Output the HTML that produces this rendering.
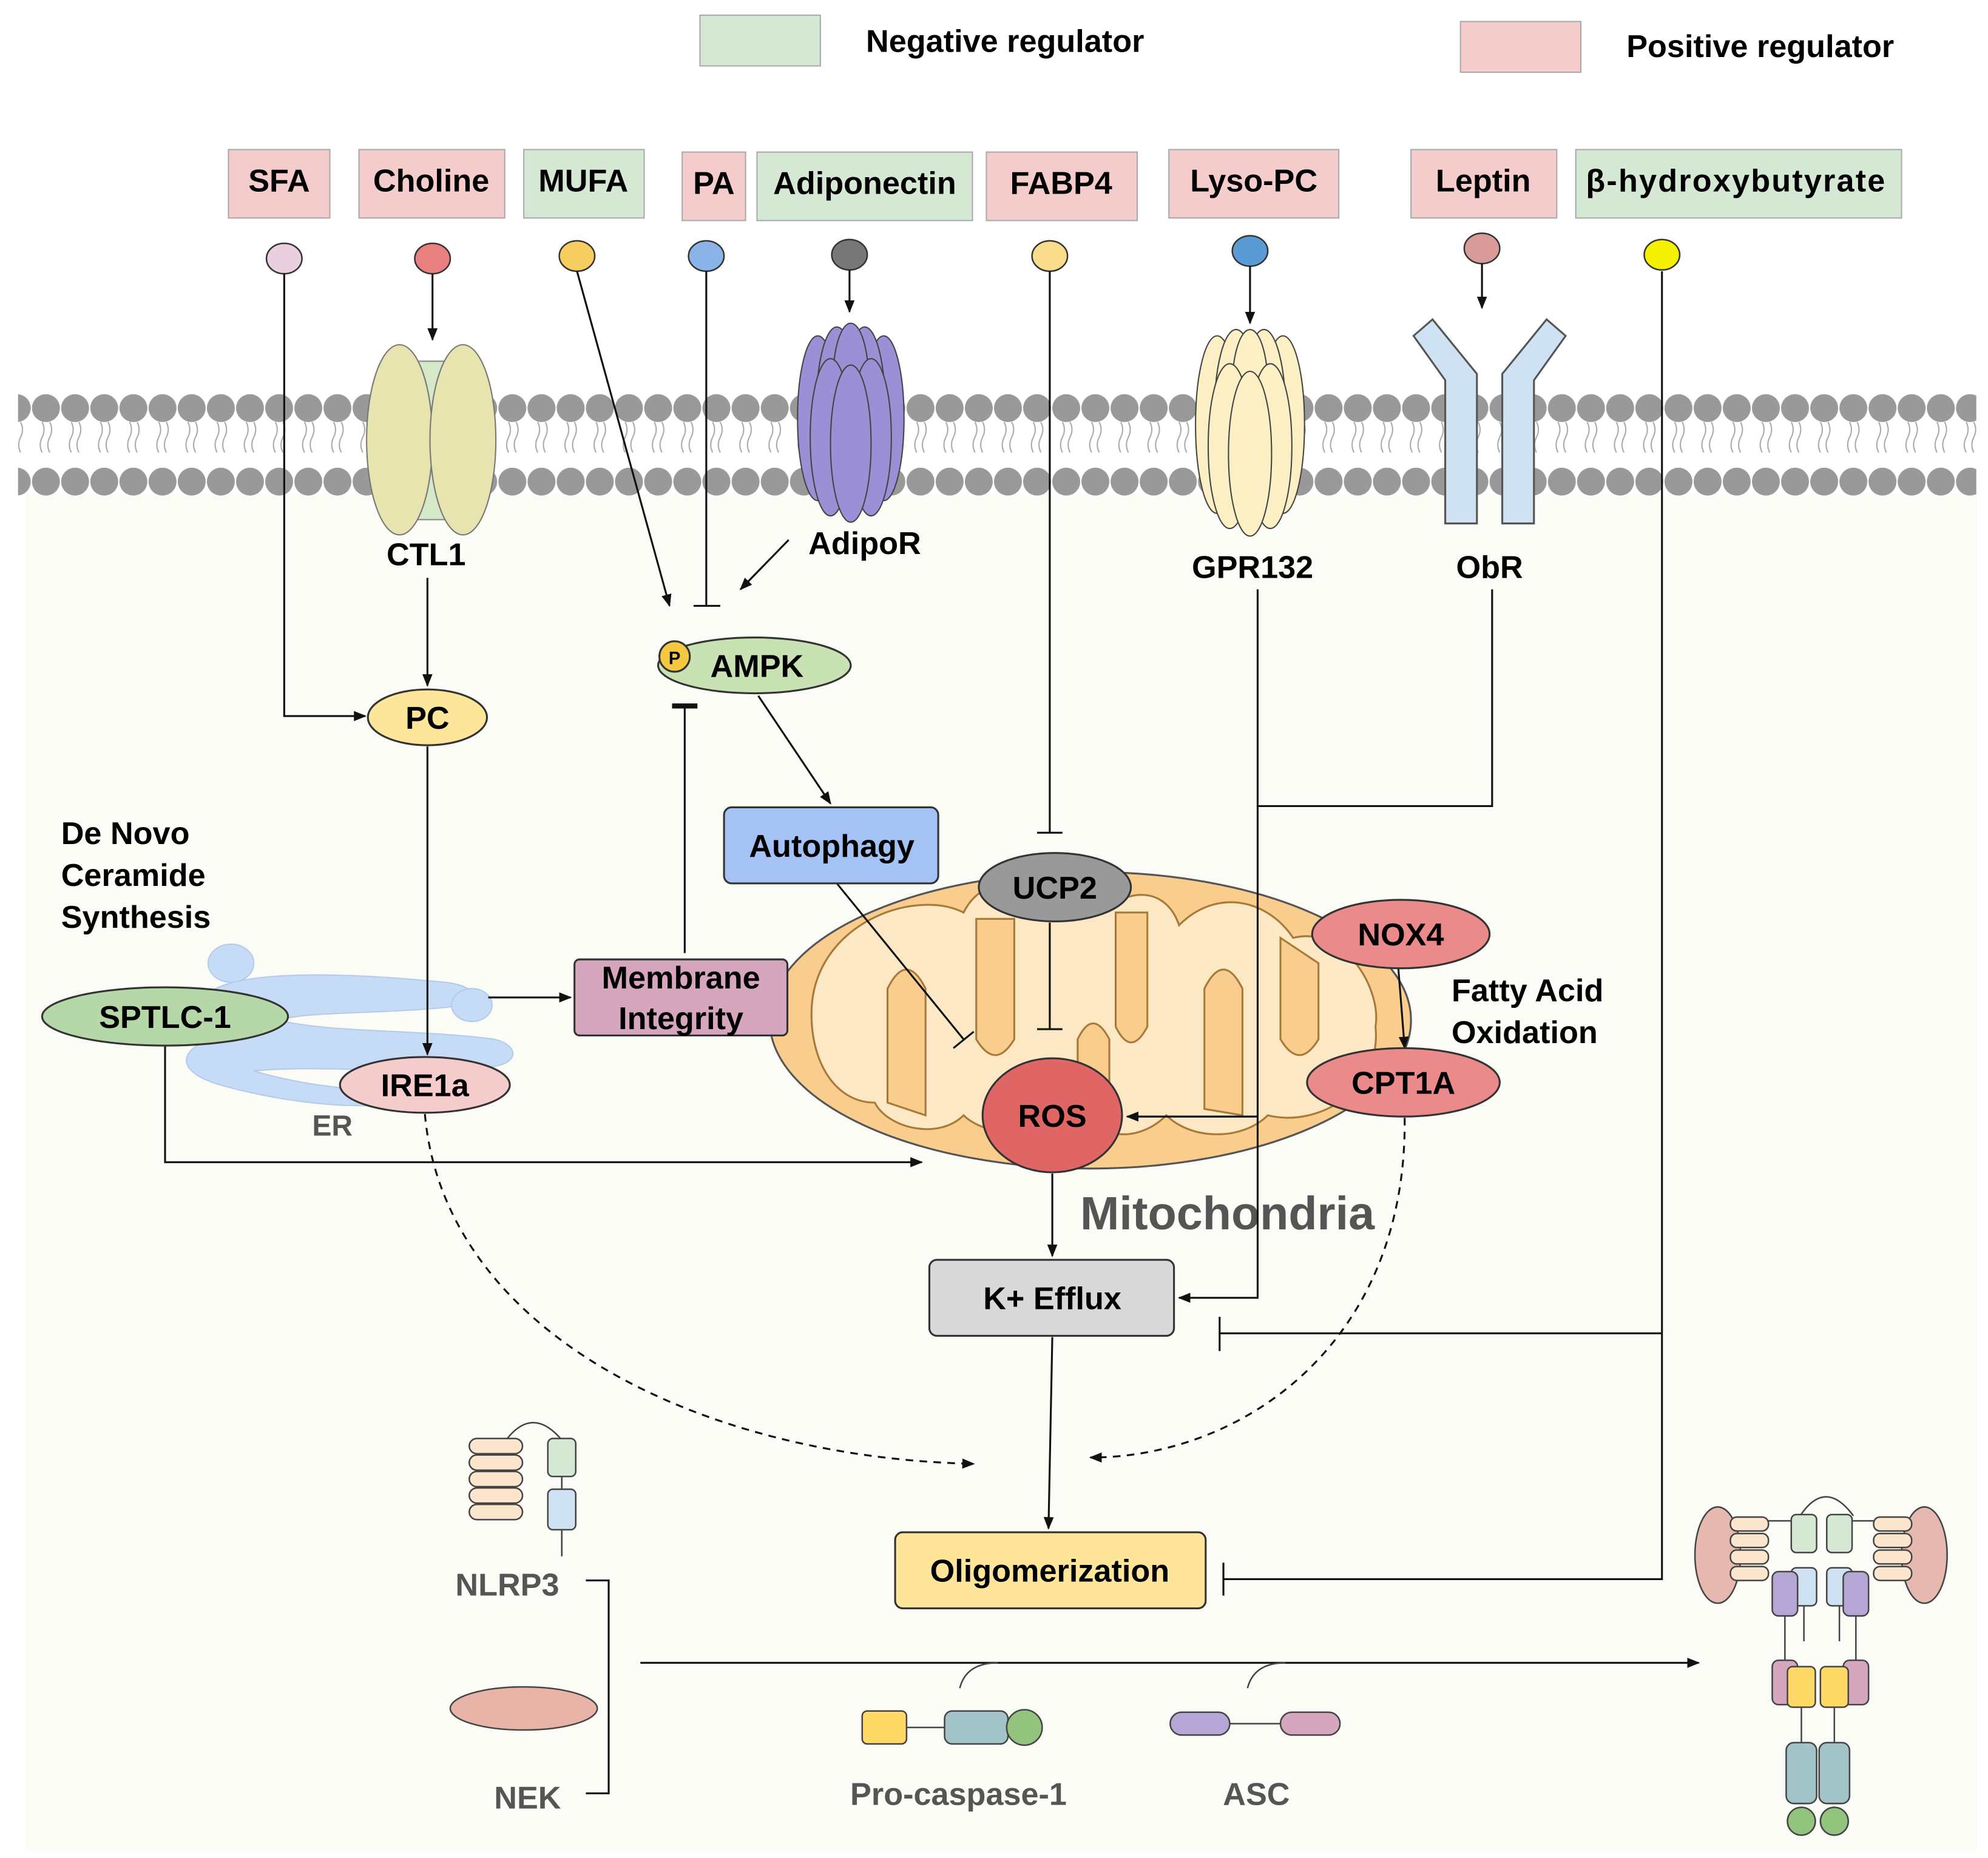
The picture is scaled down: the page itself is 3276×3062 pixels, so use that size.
<!DOCTYPE html>
<html><head><meta charset="utf-8"><style>
html,body{margin:0;padding:0;background:#fff;}
svg{display:block;}
text{font-family:"Liberation Sans",sans-serif;font-weight:bold;}
</style></head><body>
<svg width="3276" height="3062" viewBox="0 0 1568 1466" xmlns="http://www.w3.org/2000/svg">
<defs>
<marker id="a" markerWidth="10" markerHeight="10" refX="9" refY="5" orient="auto" markerUnits="userSpaceOnUse"><path d="M0,1 L10,5 L0,9 z" fill="#111"/></marker>
<pattern id="mem" x="25" y="0" width="23" height="1466" patternUnits="userSpaceOnUse">
<circle cx="11" cy="322" r="11" fill="#999"/><circle cx="11" cy="380" r="11" fill="#999"/>
<path d="M8,333 q3,6 0,12 q-3,6 0,12 M14,333 q3,6 0,12 q-3,6 0,12" stroke="#aaa" fill="none" stroke-width="1"/>
</pattern>
</defs>
<rect x="20" y="390" width="1540" height="1070" fill="#fcfcf7"/>
<!-- legend -->
<rect x="552" y="12" width="95" height="40" fill="#d5e8d4" stroke="#aaa"/>
<text x="683" y="41" font-size="25">Negative regulator</text>
<rect x="1152" y="17" width="95" height="40" fill="#f4cccc" stroke="#aaa"/>
<text x="1283" y="45" font-size="25">Positive regulator</text>
<!-- top boxes -->
<g stroke="#aaa">
<rect x="180" y="118" width="80" height="54" fill="#f4cccc"/>
<rect x="283" y="118" width="115" height="54" fill="#f4cccc"/>
<rect x="413" y="118" width="95" height="54" fill="#d5e8d4"/>
<rect x="538" y="120" width="50" height="54" fill="#f4cccc"/>
<rect x="597" y="120" width="170" height="54" fill="#d5e8d4"/>
<rect x="778" y="120" width="119" height="54" fill="#f4cccc"/>
<rect x="922" y="118" width="134" height="54" fill="#f4cccc"/>
<rect x="1113" y="118" width="115" height="54" fill="#f4cccc"/>
<rect x="1243" y="118" width="257" height="54" fill="#d5e8d4"/>
</g>
<g font-size="25" text-anchor="middle">
<text x="220" y="151">SFA</text><text x="340" y="151">Choline</text><text x="460" y="151">MUFA</text>
<text x="563" y="153">PA</text><text x="682" y="153">Adiponectin</text><text x="837" y="153">FABP4</text>
<text x="989" y="151">Lyso-PC</text><text x="1170" y="151">Leptin</text><text x="1369" y="151" textLength="236">β-hydroxybutyrate</text>
</g>
<g stroke="#333" stroke-width="1.2">
<ellipse cx="224" cy="204" rx="14" ry="12" fill="#ead0de"/>
<ellipse cx="341" cy="204" rx="14" ry="12" fill="#e88080"/>
<ellipse cx="455" cy="202" rx="14" ry="12" fill="#f7cc60"/>
<ellipse cx="557" cy="202" rx="14" ry="12" fill="#8ab4e8"/>
<ellipse cx="670" cy="201" rx="14" ry="12" fill="#777"/>
<ellipse cx="828" cy="202" rx="14" ry="12" fill="#f9dc8a"/>
<ellipse cx="986" cy="198" rx="14" ry="12" fill="#5b9bd5"/>
<ellipse cx="1169" cy="196" rx="14" ry="12" fill="#d99a9a"/>
<ellipse cx="1311" cy="201" rx="14" ry="12" fill="#f5f000"/>
</g>
<!-- membrane -->
<rect x="14" y="308" width="1545" height="86" fill="url(#mem)"/>
<!-- CTL1 -->
<rect x="315" y="285" width="50" height="125" fill="#d5e8c8" stroke="#888"/>
<ellipse cx="315" cy="347" rx="26" ry="75" fill="#e8e4b0" stroke="#777"/>
<ellipse cx="365" cy="347" rx="26" ry="75" fill="#e8e4b0" stroke="#777"/>
<!-- AdipoR -->
<g fill="#9b8fd6" stroke="#444">
<ellipse cx="645" cy="330" rx="16" ry="65"/><ellipse cx="697" cy="330" rx="16" ry="65"/>
<ellipse cx="660" cy="320" rx="16" ry="62"/><ellipse cx="682" cy="320" rx="16" ry="62"/>
<ellipse cx="671" cy="300" rx="14" ry="45"/>
<ellipse cx="655" cy="345" rx="16" ry="62"/><ellipse cx="687" cy="345" rx="16" ry="62"/>
<ellipse cx="671" cy="350" rx="16" ry="62"/>
</g>
<!-- GPR132 -->
<g fill="#fdefc4" stroke="#444">
<ellipse cx="960" cy="335" rx="17" ry="70"/><ellipse cx="1012" cy="335" rx="17" ry="70"/>
<ellipse cx="975" cy="325" rx="17" ry="65"/><ellipse cx="997" cy="325" rx="17" ry="65"/>
<ellipse cx="986" cy="305" rx="14" ry="45"/>
<ellipse cx="970" cy="352" rx="17" ry="65"/><ellipse cx="1002" cy="352" rx="17" ry="65"/>
<ellipse cx="986" cy="358" rx="17" ry="65"/>
</g>
<!-- ObR -->
<g fill="#cfe2f3" stroke="#555" stroke-width="1.5">
<path d="M1115,265 L1130,252 L1165,295 L1165,413 L1140,413 L1140,300 z"/>
<path d="M1235,265 L1220,252 L1185,295 L1185,413 L1210,413 L1210,300 z"/>
</g>
<g font-size="25" text-anchor="middle">
<text x="336" y="446">CTL1</text><text x="682" y="437">AdipoR</text><text x="988" y="456">GPR132</text><text x="1175" y="456">ObR</text>
</g>
<!-- Mitochondria -->
<ellipse cx="860" cy="805" rx="253" ry="117" fill="#f9cd8e" stroke="#555" stroke-width="1.5"/>
<path d="M640,800 C640,730 720,700 760,720 C770,700 790,690 810,720 C830,700 850,700 870,720 C890,700 920,700 930,730 C960,700 1000,710 1020,740 C1060,730 1090,780 1085,810 C1090,860 1040,890 1000,880 C980,900 940,900 920,880 C900,900 870,900 860,880 C840,900 780,900 760,880 C740,900 700,890 690,870 C660,870 640,840 640,800 z" fill="#fde8c6" stroke="#a87a3a" stroke-width="1.5"/>
<g fill="#f9cd8e" stroke="#a87a3a" stroke-width="1.5">
<path d="M700,870 L700,780 q15,-30 30,0 L730,880 z"/>
<path d="M770,725 L770,820 q15,25 30,0 L800,725 z"/>
<path d="M880,720 L880,810 q12,25 25,0 L905,720 z"/>
<path d="M950,875 L950,780 q15,-30 30,0 L980,880 z"/>
<path d="M1010,740 L1010,820 q15,25 30,0 L1040,760 z"/>
<path d="M850,885 L850,820 q12,-25 25,0 L875,885 z"/>
</g>
<text x="852" y="970" font-size="37" fill="#555">Mitochondria</text>
<!-- ER -->
<g fill="#c6dbf5" stroke="#b4cbea">
<path d="M170,780 C200,765 280,768 350,775 C380,778 380,792 350,795 C300,800 240,798 220,805 C260,815 330,812 390,820 C410,825 410,840 385,842 C320,848 250,840 200,845 C250,860 300,860 330,865 C300,880 220,870 170,855 C140,845 140,830 165,820 C150,805 150,790 170,780 z"/>
<ellipse cx="182" cy="760" rx="18" ry="15"/>
<ellipse cx="372" cy="793" rx="16" ry="13"/>
</g>
<text x="262" y="896" font-size="23" fill="#555" text-anchor="middle">ER</text>
<g font-size="25">
<text x="48" y="666">De Novo</text><text x="48" y="699">Ceramide</text><text x="48" y="732">Synthesis</text>
<text x="1145" y="790">Fatty Acid</text><text x="1145" y="823">Oxidation</text>
</g>
<!-- connectors -->
<g stroke="#111" stroke-width="1.5" fill="none">
<path d="M224,216 V565 H288" marker-end="url(#a)"/>
<path d="M341,216 V268" marker-end="url(#a)"/>
<path d="M337,456 V541" marker-end="url(#a)"/>
<path d="M337,589 V832" marker-end="url(#a)"/>
<path d="M455,214 L528,478" marker-end="url(#a)"/>
<path d="M557,214 V478 M547,478 H568"/>
<path d="M670,213 V246" marker-end="url(#a)"/>
<path d="M986,210 V255" marker-end="url(#a)"/>
<path d="M1169,208 V243" marker-end="url(#a)"/>
<path d="M622,426 L584,465" marker-end="url(#a)"/>
<path d="M598,549 L655,634" marker-end="url(#a)"/>
<path d="M540,752 V557"/>
<path d="M530,557 H550" stroke-width="4"/>
<path d="M385,787 H450" marker-end="url(#a)"/>
<path d="M828,214 V657 M818,657 H838"/>
<path d="M828,728 V812 M818,812 H838"/>
<path d="M660,697 L760,820 M752,827 L768,814"/>
<path d="M1103,764 L1108,827" marker-end="url(#a)"/>
<path d="M992,465 V1024 H930" marker-end="url(#a)"/>
<path d="M1177,465 V636 H992"/>
<path d="M992,881 H889" marker-end="url(#a)"/>
<path d="M130,825 V917 H727" marker-end="url(#a)"/>
<path d="M830,926 V991" marker-end="url(#a)"/>
<path d="M830,1055 L827,1206" marker-end="url(#a)"/>
<path d="M1311,214 V1246 H965 M965,1233 V1259"/>
<path d="M1311,1052 H962 M962,1039 V1066"/>
<path d="M335,879 C350,1050 550,1150 768,1155" stroke-dasharray="6,5" marker-end="url(#a)"/>
<path d="M1108,882 C1110,1060 980,1150 860,1150" stroke-dasharray="6,5" marker-end="url(#a)"/>
<path d="M462,1247 H480 V1415 H462"/>
<path d="M505,1312 H1340" marker-end="url(#a)"/>
</g>
<!-- nodes -->
<g stroke="#333" stroke-width="1.5" font-size="25" text-anchor="middle">
<ellipse cx="337" cy="566" rx="47" ry="22" fill="#fde699"/><text x="337" y="575" stroke="none">PC</text>
<ellipse cx="595" cy="525" rx="76" ry="22" fill="#c9e2b3"/><text x="597" y="534" stroke="none">AMPK</text>
<circle cx="532" cy="518" r="12" fill="#f5c842"/><text x="532" y="524" font-size="14" stroke="none">P</text>
<rect x="571" y="637" width="169" height="60" rx="6" fill="#a4c2f4"/><text x="656" y="676" stroke="none">Autophagy</text>
<rect x="453" y="757" width="168" height="60" rx="4" fill="#d5a6bd"/><text x="537" y="780" stroke="none">Membrane</text><text x="537" y="812" stroke="none">Integrity</text>
<ellipse cx="832" cy="700" rx="60" ry="27" fill="#999"/><text x="832" y="709" stroke="none">UCP2</text>
<ellipse cx="1105" cy="737" rx="70" ry="27" fill="#ea8a8a"/><text x="1105" y="746" stroke="none">NOX4</text>
<ellipse cx="1107" cy="854" rx="76" ry="27" fill="#ea8a8a"/><text x="1107" y="863" stroke="none">CPT1A</text>
<ellipse cx="830" cy="880" rx="55" ry="45" fill="#e06666"/><text x="830" y="889" stroke="none">ROS</text>
<rect x="733" y="994" width="193" height="60" rx="6" fill="#d9d9d9"/><text x="830" y="1033" stroke="none">K+ Efflux</text>
<rect x="706" y="1209" width="245" height="60" rx="6" fill="#ffe599"/><text x="828" y="1248" stroke="none">Oligomerization</text>
<ellipse cx="130" cy="802" rx="97" ry="23" fill="#b6d7a8"/><text x="130" y="811" stroke="none">SPTLC-1</text>
<ellipse cx="335" cy="856" rx="67" ry="22" fill="#f4cccc"/><text x="335" y="865" stroke="none">IRE1a</text>
</g>
<!-- bottom components -->
<g stroke="#444" stroke-width="1.2">
<rect x="370" y="1135" width="42" height="12" rx="6" fill="#fce5cd"/>
<rect x="370" y="1148" width="42" height="12" rx="6" fill="#fce5cd"/>
<rect x="370" y="1161" width="42" height="12" rx="6" fill="#fce5cd"/>
<rect x="370" y="1174" width="42" height="12" rx="6" fill="#fce5cd"/>
<rect x="370" y="1187" width="42" height="12" rx="6" fill="#fce5cd"/>
<path d="M400,1135 q20,-25 42,0" fill="none"/>
<rect x="432" y="1135" width="22" height="30" rx="4" fill="#d5e8d4"/>
<rect x="432" y="1175" width="22" height="32" rx="4" fill="#cfe2f3"/>
<path d="M443,1165 V1175 M443,1207 V1228" fill="none"/>
<ellipse cx="413" cy="1348" rx="58" ry="17" fill="#e8b4a8"/>
<rect x="680" y="1350" width="35" height="26" rx="4" fill="#ffd966"/>
<path d="M715,1363 H745" fill="none"/>
<rect x="745" y="1350" width="50" height="26" rx="6" fill="#a2c4c9"/>
<circle cx="808" cy="1363" r="14" fill="#93c47d"/>
<path d="M757,1332 q5,-20 30,-20" fill="none"/>
<rect x="923" y="1351" width="47" height="18" rx="9" fill="#b4a7d6"/>
<path d="M970,1360 H1010" fill="none"/>
<rect x="1010" y="1351" width="47" height="18" rx="9" fill="#d5a6bd"/>
<path d="M984,1332 q5,-20 30,-20" fill="none"/>
<!-- right complex -->
<ellipse cx="1355" cy="1227" rx="18" ry="38" fill="#e6b8af"/>
<ellipse cx="1518" cy="1227" rx="18" ry="38" fill="#e6b8af"/>
<g fill="#fce5cd">
<rect x="1365" y="1197" width="30" height="11" rx="5"/><rect x="1365" y="1210" width="30" height="11" rx="5"/><rect x="1365" y="1223" width="30" height="11" rx="5"/><rect x="1365" y="1236" width="30" height="11" rx="5"/>
<rect x="1478" y="1197" width="30" height="11" rx="5"/><rect x="1478" y="1210" width="30" height="11" rx="5"/><rect x="1478" y="1223" width="30" height="11" rx="5"/><rect x="1478" y="1236" width="30" height="11" rx="5"/>
</g>
<path d="M1395,1200 H1413 M1478,1200 H1460 M1420,1196 q20,-30 42,0" fill="none"/>
<rect x="1413" y="1195" width="20" height="30" rx="4" fill="#d5e8d4"/>
<rect x="1441" y="1195" width="20" height="30" rx="4" fill="#d5e8d4"/>
<rect x="1413" y="1237" width="20" height="30" rx="4" fill="#cfe2f3"/>
<rect x="1441" y="1237" width="20" height="30" rx="4" fill="#cfe2f3"/>
<rect x="1398" y="1240" width="20" height="35" rx="5" fill="#b4a7d6"/>
<rect x="1454" y="1240" width="20" height="35" rx="5" fill="#b4a7d6"/>
<rect x="1398" y="1310" width="20" height="35" rx="5" fill="#d5a6bd"/>
<rect x="1454" y="1310" width="20" height="35" rx="5" fill="#d5a6bd"/>
<path d="M1408,1275 V1310 M1464,1275 V1310 M1423,1267 V1295 M1451,1267 V1295" fill="none"/>
<rect x="1410" y="1315" width="22" height="32" rx="4" fill="#ffd966"/>
<rect x="1436" y="1315" width="22" height="32" rx="4" fill="#ffd966"/>
<path d="M1421,1347 V1375 M1447,1347 V1375" fill="none"/>
<rect x="1409" y="1375" width="24" height="48" rx="6" fill="#a2c4c9"/>
<rect x="1435" y="1375" width="24" height="48" rx="6" fill="#a2c4c9"/>
<circle cx="1421" cy="1437" r="11" fill="#93c47d"/>
<circle cx="1447" cy="1437" r="11" fill="#93c47d"/>
</g>
<g font-size="25" fill="#555" text-anchor="middle">
<text x="400" y="1259">NLRP3</text><text x="416" y="1427">NEK</text>
<text x="756" y="1424">Pro-caspase-1</text><text x="991" y="1424">ASC</text>
</g>
</svg>
</body></html>
